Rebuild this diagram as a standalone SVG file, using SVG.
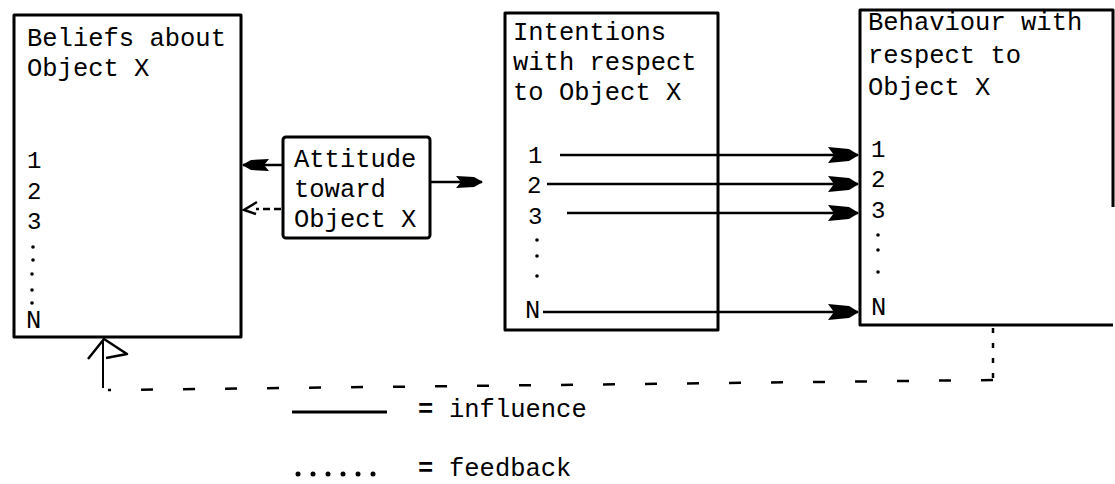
<svg xmlns="http://www.w3.org/2000/svg" width="1115" height="484" viewBox="0 0 1115 484">
  <style>
    .box { fill: none; stroke: #000; stroke-width: 3; stroke-linejoin: round; }
    .t { font-family: "Liberation Mono", "DejaVu Sans Mono", monospace; font-size: 25.5px; fill: #000; }
    .num { font-family: "Liberation Mono", "DejaVu Sans Mono", monospace; font-size: 24px; fill: #000; }
    .dot { fill: #000; }
    .flow { fill: none; stroke: #000; stroke-width: 2.5; }
    .fb { fill: none; stroke: #000; stroke-width: 2.5; }
  </style>
  <defs>
    <marker id="dart" viewBox="-32 -10 34 20" refX="0" refY="0" markerWidth="34" markerHeight="20" markerUnits="userSpaceOnUse" orient="auto">
      <path d="M1,0 L-9,-6 L-30,-8 L-24,0 L-30,8 L-9,6 Z" fill="#000"/>
    </marker>
    <marker id="dartSmall" viewBox="-28 -8 30 16" refX="0" refY="0" markerWidth="30" markerHeight="16" markerUnits="userSpaceOnUse" orient="auto">
      <path d="M1,0 L-8,-5 L-26,-6 L-21,0 L-26,6 L-8,5 Z" fill="#000"/>
    </marker>
  </defs>
  <rect width="1115" height="484" fill="#fff"/>

  <!-- Beliefs -->
  <g id="beliefs">
    <rect class="box" x="14" y="15" width="227" height="322"/>
    <text class="t" x="27" y="46">Beliefs about</text>
    <text class="t" x="27" y="76">Object X</text>
    <text class="num" x="27" y="168">1</text>
    <text class="num" x="27" y="199">2</text>
    <text class="num" x="27" y="229">3</text>
    <circle class="dot" cx="33" cy="247" r="1.8"/>
    <circle class="dot" cx="33" cy="260" r="1.8"/>
    <circle class="dot" cx="32" cy="274" r="1.8"/>
    <circle class="dot" cx="32" cy="290" r="1.8"/>
    <circle class="dot" cx="32" cy="303" r="1.8"/>
    <text class="t" x="26" y="328">N</text>
  </g>

  <!-- Attitude -->
  <g id="attitude">
    <rect class="box" x="283" y="137" width="147" height="101" rx="3"/>
    <text class="t" x="294" y="167">Attitude</text>
    <text class="t" x="294" y="197">toward</text>
    <text class="t" x="294" y="227">Object X</text>
  </g>

  <!-- Intentions -->
  <g id="intentions">
    <rect class="box" x="505" y="13" width="213" height="317"/>
    <text class="t" x="513" y="40">Intentions</text>
    <text class="t" x="513" y="70">with respect</text>
    <text class="t" x="513" y="100">to Object X</text>
    <text class="num" x="528" y="163">1</text>
    <text class="num" x="527" y="193">2</text>
    <text class="num" x="528" y="224">3</text>
    <circle class="dot" cx="537" cy="240" r="1.8"/>
    <circle class="dot" cx="537" cy="256" r="1.8"/>
    <circle class="dot" cx="537" cy="276" r="1.8"/>
    <text class="t" x="525" y="318">N</text>
  </g>

  <!-- Behaviour (right side open below the numbers) -->
  <g id="behaviour">
    <path class="box" d="M1113,207 L1113,10 L860,10 L860,325 L1113,325"/>
    <text class="t" x="868" y="30">Behaviour with</text>
    <text class="t" x="868" y="63">respect to</text>
    <text class="t" x="868" y="95">Object X</text>
    <text class="num" x="871" y="157">1</text>
    <text class="num" x="871" y="187">2</text>
    <text class="num" x="871" y="218">3</text>
    <circle class="dot" cx="878" cy="235" r="1.8"/>
    <circle class="dot" cx="878" cy="250" r="1.8"/>
    <circle class="dot" cx="878" cy="272" r="1.8"/>
    <text class="t" x="871" y="315">N</text>
  </g>

  <!-- Connectors -->
  <g id="connectors">
    <!-- influence -->
    <line class="flow" x1="283" y1="165" x2="243" y2="165" marker-end="url(#dartSmall)"/>
    <line class="flow" x1="431" y1="182" x2="482" y2="182" marker-end="url(#dartSmall)"/>
    <line class="flow" x1="560" y1="155" x2="858" y2="155" marker-end="url(#dart)"/>
    <line class="flow" x1="547" y1="184" x2="858" y2="184" marker-end="url(#dart)"/>
    <line class="flow" x1="567" y1="213" x2="858" y2="213" marker-end="url(#dart)"/>
    <line class="flow" x1="543" y1="312" x2="858" y2="312" marker-end="url(#dart)"/>
    <!-- feedback from attitude to beliefs -->
    <line class="fb" x1="281" y1="209" x2="256" y2="209" stroke-dasharray="7 4"/>
    <path class="fb" d="M257,202 L244,210 L256,214"/>
    <!-- feedback from behaviour to beliefs -->
    <line class="fb" x1="993" y1="328" x2="993" y2="380" stroke-dasharray="5 10"/>
    <line class="fb" x1="993" y1="380" x2="108" y2="390" stroke-dasharray="12 30"/>
    <line x1="103" y1="388" x2="103" y2="340" stroke="#000" stroke-width="2"/>
    <path d="M88,359 L104,339 L127,354 L106,358" fill="none" stroke="#000" stroke-width="2.5" stroke-linejoin="round"/>
  </g>

  <!-- Legend -->
  <g id="legend">
    <line x1="292" y1="412" x2="387" y2="412" stroke="#000" stroke-width="3"/>
    <text class="t" x="418" y="417" font-weight="bold">=</text>
    <text class="t" x="449" y="417">influence</text>
    <circle class="dot" cx="298" cy="474" r="2.5"/>
    <circle class="dot" cx="313" cy="474" r="2.5"/>
    <circle class="dot" cx="328" cy="474" r="2.5"/>
    <circle class="dot" cx="343" cy="474" r="2.5"/>
    <circle class="dot" cx="358" cy="474" r="2.5"/>
    <circle class="dot" cx="373" cy="474" r="2.5"/>
    <text class="t" x="418" y="476" font-weight="bold">=</text>
    <text class="t" x="449" y="476">feedback</text>
  </g>
</svg>
